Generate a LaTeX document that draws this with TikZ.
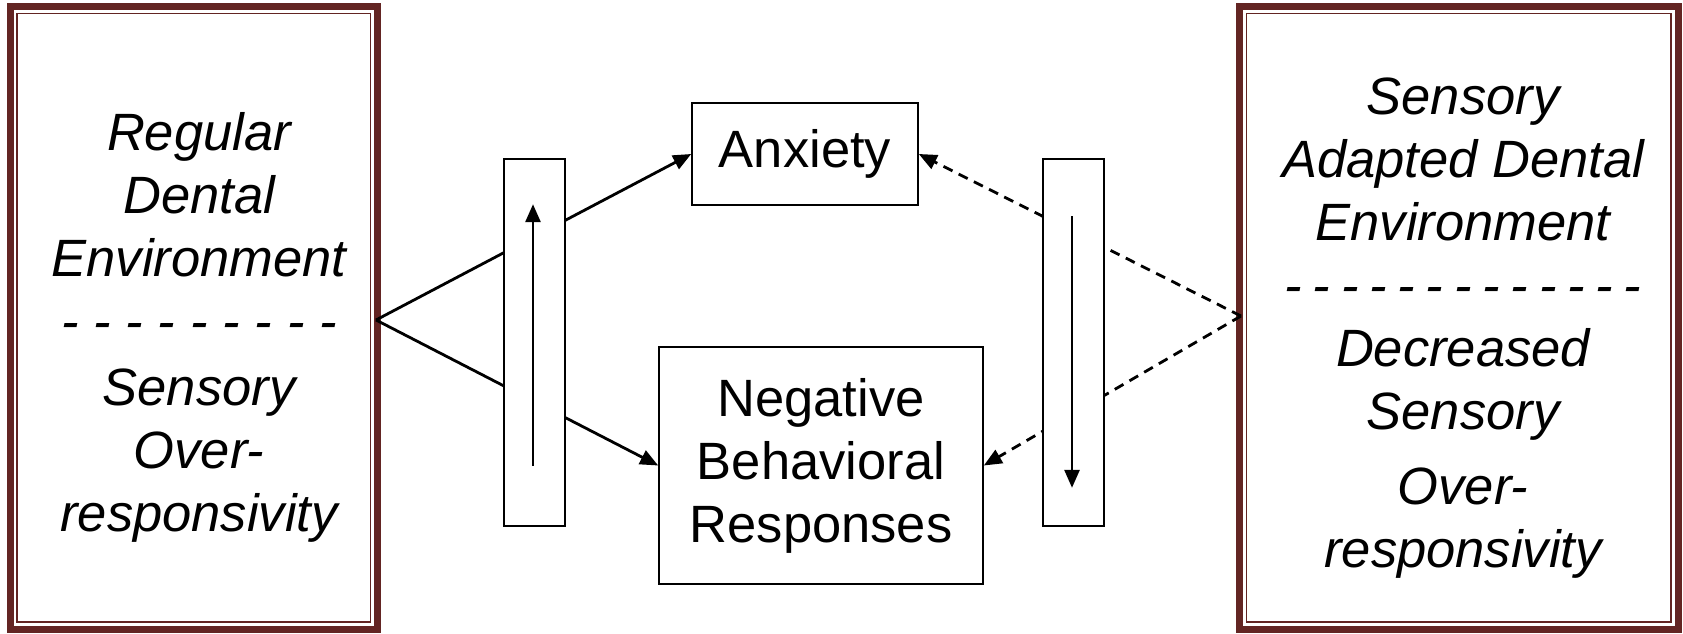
\documentclass[tikz,border=0pt]{standalone}
\usepackage{fontspec}
\setmainfont{Liberation Sans}
\usetikzlibrary{arrows.meta}
\definecolor{framebrown}{HTML}{632523}
\newcommand{\dashrow}[2]{-\foreach \i in {2,...,#1}{\hspace{#2}-}}
\tikzset{
  envbox/.style={draw=framebrown,line width=7pt,inner sep=0pt,outer sep=0pt},
  envtext/.style={align=center,inner sep=0pt,font=\fontsize{52.5}{63}\selectfont\itshape},
  outcome/.style={draw,line width=1.6pt,inner sep=0pt,align=center,font=\fontsize{52.5}{63}\selectfont},
  bar/.style={draw,fill=white,line width=1.6pt,minimum width=61pt,minimum height=367pt,inner sep=0pt},
  link/.style={line width=2.8pt,-{Triangle[length=18pt,width=15pt]}},
  dashlink/.style={link,dash pattern=on 10pt off 7pt}
}
\begin{document}
\begin{tikzpicture}[x=1pt,y=1pt]
  \useasboundingbox (0,0) rectangle (1683,633);

  \node[envbox,minimum width=367.5pt,minimum height=622.5pt] (regular) at (193.75,315.25) {};
  \draw[framebrown,line width=1.8pt] ([shift={(7,7)}]regular.south west) rectangle ([shift={(-7,-7)}]regular.north east);
  \node[envtext] (regtext) at (199,306) {Regular\\Dental\\Environment\\\dashrow{9}{14.8pt}\\[3pt]Sensory\\Over-\\responsivity};

  \node[envbox,minimum width=438.5pt,minimum height=622.5pt] (adapted) at (1458.75,315.25) {};
  \draw[framebrown,line width=1.8pt] ([shift={(7,7)}]adapted.south west) rectangle ([shift={(-7,-7)}]adapted.north east);
  \node[envtext] (adapttext) at (1463,305) {Sensory\\Adapted Dental\\Environment\\\dashrow{13}{10.8pt}\\Decreased\\Sensory\\[12pt]Over-\\responsivity};

  \node[outcome,minimum width=226pt,minimum height=102pt] (anxiety) at (805,479) {Anxiety};
  \node[outcome,minimum width=324pt,minimum height=237pt] (negative) at (821,167.5) {Negative\\Behavioral\\Responses};

  \coordinate (lapex) at (376,313);
  \coordinate (rapex) at (1241,317);

  \draw[link] (lapex) -- (anxiety.west);
  \draw[link] (lapex) -- (negative.west);
  \draw[dashlink] (rapex) -- (anxiety.east);
  \draw[dashlink] (rapex) -- (negative.east);

  \node[bar] (upbar) at (534.5,290.5) {};
  \node[bar] (downbar) at (1073.5,290.5) {};

  \draw[link] ([shift={(-1.5,61)}]upbar.south) -- ([shift={(-1.5,-46)}]upbar.north);
  \draw[link] ([shift={(-1.5,-58)}]downbar.north) -- ([shift={(-1.5,39)}]downbar.south);
\end{tikzpicture}
\end{document}
